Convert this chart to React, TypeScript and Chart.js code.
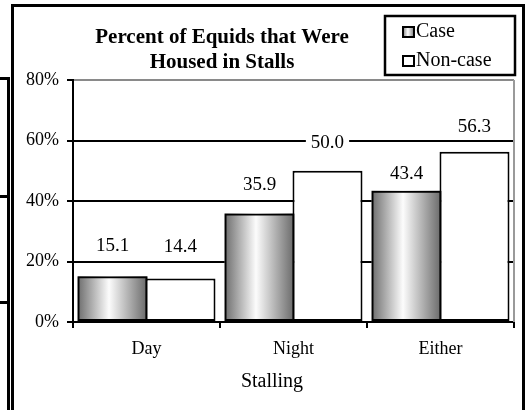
import React, { useEffect, useRef } from "react";
import { Chart, registerables } from "chart.js";

Chart.register(...registerables);

// ---- data ----
const categories = ["Day", "Night", "Either"];
const caseValues = [15.1, 35.9, 43.4];
const nonCaseValues = [14.4, 50.0, 56.3];
const seriesNames = ["Case", "Non-case"];
const yTickValues = [0, 20, 40, 60, 80];
const titleLines = ["Percent of Equids that Were", "Housed in Stalls"];
const xAxisTitle = "Stalling";

// ---- style ----
const FONT = "'Liberation Serif', 'Times New Roman', serif";
// vertical distance (px) from bar top to label baseline, per dataset / point
const labelRaise = [
  [25, 23, 12],
  [26, 23, 20],
];

function caseGradient(ctx: CanvasRenderingContext2D, x0: number, x1: number) {
  const g = ctx.createLinearGradient(x0, 0, x1, 0);
  g.addColorStop(0, "#6c6c6c");
  g.addColorStop(0.45, "#fcfcfc");
  g.addColorStop(1, "#686868");
  return g;
}

const decorPlugin = {
  id: "decor",
  beforeDraw(chart: any) {
    const ctx = chart.ctx as CanvasRenderingContext2D;
    ctx.save();
    ctx.fillStyle = "#fff";
    ctx.fillRect(0, 0, chart.width, chart.height);
    ctx.fillStyle = "#000";
    // outer frame
    ctx.fillRect(11, 4, 3, 406);
    ctx.fillRect(11, 4, 514, 3);
    ctx.fillRect(522, 4, 3, 406);
    // neighbouring lines on the left edge
    ctx.fillRect(7, 77, 3, 333);
    ctx.fillRect(0, 77, 10, 3);
    ctx.fillRect(0, 195, 8, 3);
    ctx.fillRect(0, 301, 8, 3);
    ctx.restore();
  },
  beforeDatasetsDraw(chart: any) {
    const ctx = chart.ctx as CanvasRenderingContext2D;
    const area = chart.chartArea;
    ctx.save();
    // gray right border of plot area
    ctx.fillStyle = "#9a9a9a";
    ctx.fillRect(area.right - 1, area.top, 2, area.bottom - area.top);
    // gradient fill of case bars
    const meta = chart.getDatasetMeta(0);
    meta.data.forEach((el: any) => {
      const { x, y, base, width } = el.getProps(["x", "y", "base", "width"], true);
      const x0 = x - width / 2;
      const x1 = x + width / 2;
      ctx.fillStyle = caseGradient(ctx, x0, x1);
      ctx.fillRect(x0, y, width, base - y);
    });
    ctx.restore();
  },
  afterDatasetsDraw(chart: any) {
    const ctx = chart.ctx as CanvasRenderingContext2D;
    ctx.save();
    ctx.font = `19px ${FONT}`;
    ctx.textAlign = "center";
    ctx.textBaseline = "alphabetic";
    chart.data.datasets.forEach((ds: any, di: number) => {
      const meta = chart.getDatasetMeta(di);
      meta.data.forEach((el: any, i: number) => {
        const { x, y } = el.getProps(["x", "y"], true);
        const txt = Number(ds.data[i]).toFixed(1);
        const by = y - labelRaise[di][i];
        const w = ctx.measureText(txt).width;
        ctx.fillStyle = "#fff";
        ctx.fillRect(x - w / 2 - 5, by - 15, w + 10, 19);
        ctx.fillStyle = "#000";
        ctx.fillText(txt, x, by);
      });
    });
    ctx.restore();
  },
  afterDraw(chart: any) {
    const ctx = chart.ctx as CanvasRenderingContext2D;
    ctx.save();
    ctx.fillStyle = "#000";
    ctx.textAlign = "center";
    ctx.textBaseline = "alphabetic";
    // title
    ctx.font = `bold 21px ${FONT}`;
    ctx.fillText(titleLines[0], 222, 43);
    ctx.fillText(titleLines[1], 222, 68);
    // x axis title
    ctx.font = `20px ${FONT}`;
    ctx.fillText(xAxisTitle, 272, 387);
    // legend
    ctx.fillStyle = "#fff";
    ctx.fillRect(384, 15, 132, 61);
    ctx.strokeStyle = "#000";
    ctx.lineWidth = 2.5;
    ctx.strokeRect(385, 16, 130, 59);
    const rows = [26, 55];
    chart.data.datasets.forEach((ds: any, di: number) => {
      const top = rows[di];
      if (di === 0) ctx.fillStyle = caseGradient(ctx, 402, 415);
      else ctx.fillStyle = "#fff";
      ctx.fillRect(402, top, 13, 12);
      ctx.lineWidth = 2;
      ctx.strokeStyle = "#000";
      ctx.strokeRect(403, top + 1, 11, 10);
      ctx.fillStyle = "#000";
      ctx.font = `20px ${FONT}`;
      ctx.textAlign = "left";
      ctx.fillText(ds.label, 416, top + 11);
    });
    ctx.restore();
  },
};

export default function App() {
  const canvasRef = useRef<HTMLCanvasElement | null>(null);

  useEffect(() => {
    const canvas = canvasRef.current;
    if (!canvas) return;
    const chart = new Chart(canvas, {
      type: "bar",
      data: {
        labels: categories,
        datasets: [
          {
            label: seriesNames[0],
            data: caseValues,
            backgroundColor: "rgba(0,0,0,0)",
            borderColor: "#000",
            borderWidth: 2,
            borderSkipped: false,
            categoryPercentage: 0.925,
            barPercentage: 1.03,
          },
          {
            label: seriesNames[1],
            data: nonCaseValues,
            backgroundColor: "#fff",
            borderColor: "#000",
            borderWidth: 2,
            borderSkipped: false,
            categoryPercentage: 0.925,
            barPercentage: 1.03,
          },
        ],
      },
      options: {
        responsive: false,
        animation: false,
        devicePixelRatio: 1,
        layout: { padding: { top: 80, right: 13, left: 0, bottom: 0 } },
        plugins: {
          legend: { display: false },
          title: { display: false },
          tooltip: { enabled: false },
        },
        scales: {
          x: {
            type: "category",
            offset: true,
            grid: {
              offset: true,
              drawOnChartArea: false,
              drawTicks: true,
              tickLength: 6,
              color: "#000",
              lineWidth: 2,
            },
            border: { display: true, color: "#000", width: 2 },
            ticks: {
              color: "#000",
              font: { family: FONT, size: 18 },
              padding: 10,
              maxRotation: 0,
            },
            afterFit(scale: any) {
              scale.height = 88;
            },
          },
          y: {
            min: 0,
            max: 80,
            afterBuildTicks(scale: any) {
              scale.ticks = yTickValues.map((v) => ({ value: v }));
            },
            grid: {
              color: (c: any) => (c.tick && c.tick.value === 80 ? "#8a8a8a" : "#000"),
              lineWidth: 2,
              drawTicks: true,
              tickLength: 6,
              tickColor: "#000",
            },
            border: { display: true, color: "#000", width: 2 },
            ticks: {
              color: "#000",
              font: { family: FONT, size: 18 },
              padding: 8,
              callback: (v: any) => `${v}%`,
            },
            afterFit(scale: any) {
              scale.width = 73;
            },
          },
        },
      },
      plugins: [decorPlugin],
    });
    return () => chart.destroy();
  }, []);

  return (
    <div style={{ position: "absolute", left: 0, top: 0, width: 527, height: 410, background: "#fff" }}>
      <canvas ref={canvasRef} width={527} height={410} style={{ display: "block" }} />
    </div>
  );
}
